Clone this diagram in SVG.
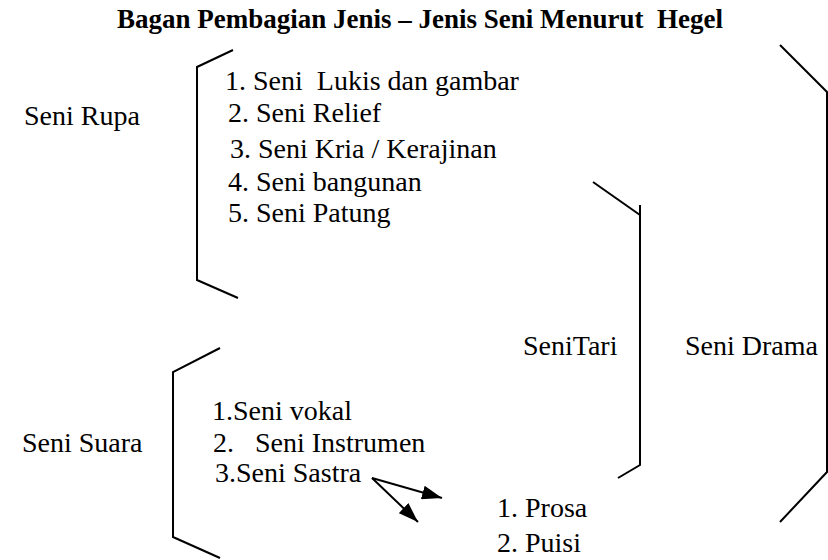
<svg xmlns="http://www.w3.org/2000/svg" width="828" height="560" viewBox="0 0 828 560">
<style>
text{font-family:"Liberation Serif","Times New Roman","DejaVu Serif",serif;font-size:28px;fill:#000}
.title{font-weight:bold;font-size:27px}
.br{fill:none;stroke:#000;stroke-width:2}
.ar{fill:none;stroke:#000;stroke-width:2}
</style>
<defs>
<marker id="ah2" viewBox="0 0 20 14" refX="20" refY="7" markerWidth="20" markerHeight="14" orient="auto" markerUnits="userSpaceOnUse">
<path d="M0,0 L20,7 L0,14 Z" fill="#000"/>
</marker>
</defs>
<rect width="828" height="560" fill="#fff"/>
<text class="title" x="117" y="28" style="white-space:pre">Bagan Pembagian Jenis – Jenis Seni Menurut  Hegel</text>

<g id="seni-rupa">
<polyline class="br" points="233,50 197,67 197,280 238,298"/>
<text x="24" y="125">Seni Rupa</text>
<text x="225" y="90" style="white-space:pre">1. Seni  Lukis dan gambar</text>
<text x="228" y="122">2. Seni Relief</text>
<text x="230" y="158">3. Seni Kria / Kerajinan</text>
<text x="228" y="191">4. Seni bangunan</text>
<text x="228" y="222">5. Seni Patung</text>
</g>

<g id="seni-suara">
<polyline class="br" points="220,348 173,372 173,537 220,558"/>
<text x="22" y="452">Seni Suara</text>
<text x="212" y="420">1.Seni vokal</text>
<text x="213" y="452" style="white-space:pre">2.   Seni Instrumen</text>
<text x="215" y="482">3.Seni Sastra</text>
</g>

<g id="seni-tari">
<polyline class="br" points="593,182 640,215"/>
<polyline class="br" points="640,205 640,465 618,478"/>
<text x="523" y="355">SeniTari</text>
</g>

<g id="seni-drama">
<polyline class="br" points="780,45 827,92 827,472 780,522"/>
<text x="685" y="355">Seni Drama</text>
</g>

<g id="sastra-sub">
<text x="497" y="517">1. Prosa</text>
<text x="497" y="552">2. Puisi</text>
</g>

<g id="connectors">
<line class="ar" x1="372" y1="478" x2="442" y2="498" marker-end="url(#ah2)"/>
<line class="ar" x1="372" y1="478" x2="418" y2="522" marker-end="url(#ah2)"/>
</g>
</svg>
